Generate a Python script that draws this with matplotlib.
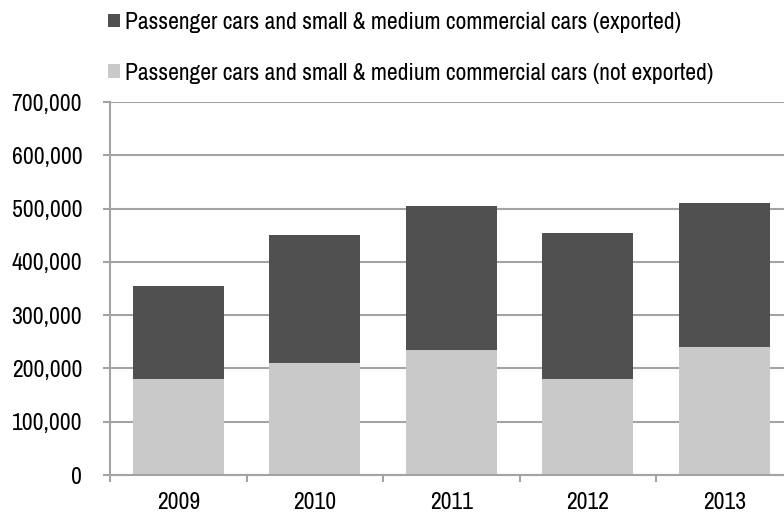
import matplotlib
matplotlib.use("Agg")
import matplotlib.pyplot as plt
from matplotlib.patches import Patch
from matplotlib.ticker import FuncFormatter, FixedLocator

plt.rcParams['font.family'] = ['Archivo Narrow', 'Liberation Sans', 'DejaVu Sans']

years = ["2009", "2010", "2011", "2012", "2013"]
not_exported = [180000, 210000, 235000, 180000, 240000]
exported = [175000, 240000, 270000, 275000, 270000]
labels = ["Passenger cars and small & medium commercial cars (exported)",
          "Passenger cars and small & medium commercial cars (not exported)"]

dark = "#505050"
light = "#c9c9c9"
grid_gray = "#a3a3a3"
fs = 17

fig = plt.figure(figsize=(7.84, 5.20), dpi=100)
ax = fig.add_axes([110 / 784, 45 / 520, 682.5 / 784, 373 / 520])

x = list(range(len(years)))
ax.bar(x, not_exported, width=0.667, color=light, zorder=2)
ax.bar(x, exported, width=0.667, bottom=not_exported, color=dark, zorder=2)

ax.set_xlim(-0.5, len(years) - 0.5)
ax.set_ylim(0, 700000)
ax.set_yticks(range(0, 700001, 100000))
ax.yaxis.set_major_formatter(FuncFormatter(lambda v, p: f"{int(v):,}"))
ax.grid(axis='y', color=grid_gray, linewidth=1.5, zorder=0)
ax.set_axisbelow(True)

ax.set_xticks(x)
ax.set_xticklabels(years)
ax.xaxis.set_minor_locator(FixedLocator([i - 0.5 for i in range(len(years) + 1)]))
ax.tick_params(axis='x', which='major', length=0, pad=12, labelsize=fs, colors='black')
ax.tick_params(axis='x', which='minor', length=5, width=1.5, color=grid_gray)
ax.tick_params(axis='y', length=5, width=1.5, color=grid_gray, pad=15, labelsize=fs, labelcolor='black')

for s in ['top', 'right']:
    ax.spines[s].set_visible(False)
for s in ['left', 'bottom']:
    ax.spines[s].set_color(grid_gray)
    ax.spines[s].set_linewidth(1.5)

handles = [Patch(facecolor=dark, edgecolor='none'), Patch(facecolor=light, edgecolor='none')]
fig.legend(handles, labels, loc='upper left', bbox_to_anchor=(108 / 784, 1 - 12 / 520),
           frameon=False, fontsize=fs, handlelength=0.5, handleheight=0.5,
           handletextpad=0.2, labelspacing=1.25, borderpad=0, borderaxespad=0)

fig.savefig("out.png", dpi=100)
